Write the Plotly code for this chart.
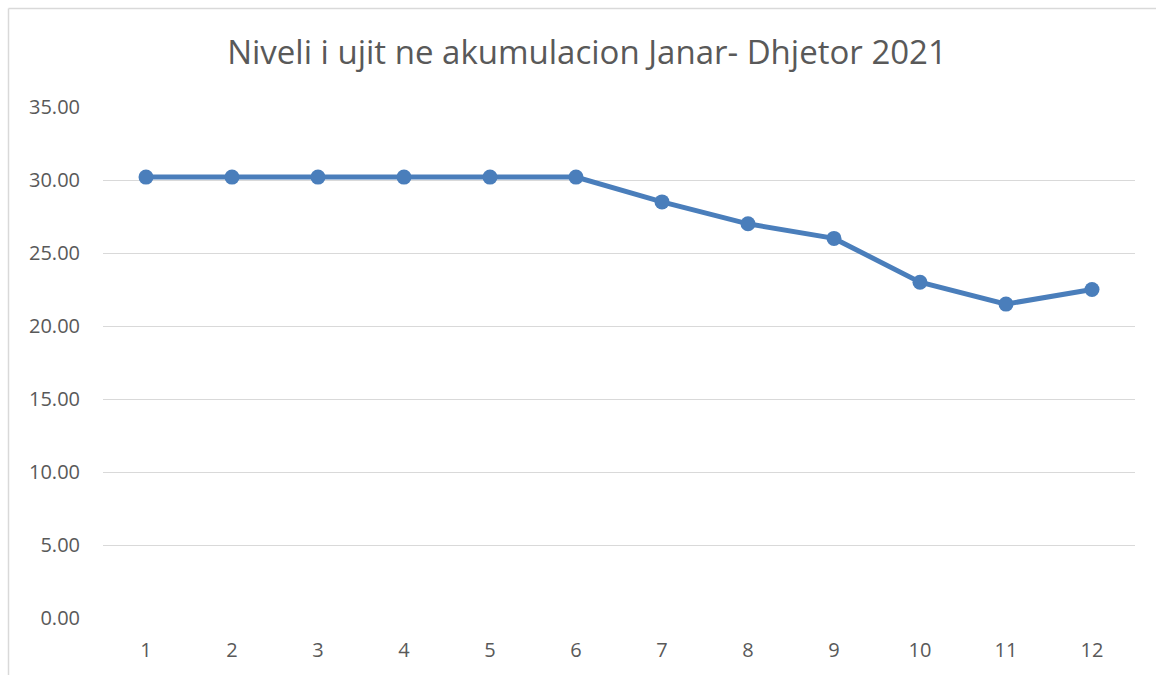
import plotly.graph_objects as go

months = ["1", "2", "3", "4", "5", "6", "7", "8", "9", "10", "11", "12"]
levels = [30.2, 30.2, 30.2, 30.2, 30.2, 30.2, 28.5, 27.0, 26.0, 23.0, 21.5, 22.5]
y_ticks = [0, 5, 10, 15, 20, 25, 30, 35]
title_text = "Niveli i ujit ne akumulacion Janar- Dhjetor 2021"

line_color = "#4a7ebb"
text_color = "#595959"
grid_color = "#d9d9d9"
font_family = "Open Sans, Liberation Sans, sans-serif"

fig = go.Figure()
fig.add_trace(go.Scatter(
    x=months, y=levels, mode="lines+markers",
    line=dict(color=line_color, width=5),
    marker=dict(color=line_color, size=15),
    showlegend=False, cliponaxis=False,
))

W, H = 1156, 675
L, R, T, B = 103, 21, 107, 57
pw, ph = W - L - R, H - T - B

bx0 = (8.5 - L) / pw
bx1 = (W - L) / pw
by_top = (H - 8.5 - B) / ph
by_bot = -B / ph

fig.update_layout(
    width=W, height=H,
    margin=dict(l=L, r=R, t=T, b=B),
    paper_bgcolor="white", plot_bgcolor="white",
    font=dict(family=font_family, color=text_color, size=20),
    title=dict(text=title_text, x=587 / W, xanchor="center", y=1 - 52 / H, yanchor="middle",
               font=dict(size=33, color=text_color, family=font_family)),
    xaxis=dict(type="category", range=[-0.5, len(months) - 0.5], showgrid=False,
               zeroline=False, showline=False,
               ticks="", ticklabelstandoff=18, tickfont=dict(size=20, color=text_color)),
    yaxis=dict(range=[0, 35], tickvals=y_ticks, tickformat=".2f", showgrid=True,
               gridcolor=grid_color, gridwidth=1, zeroline=False, showline=False,
               ticks="", ticklabelstandoff=22, tickfont=dict(size=20, color=text_color)),
    shapes=[
        dict(type="line", xref="paper", yref="paper", x0=bx0, x1=bx0, y0=by_bot, y1=by_top,
             line=dict(color=grid_color, width=1.5), layer="below"),
        dict(type="line", xref="paper", yref="paper", x0=bx0, x1=bx1, y0=by_top, y1=by_top,
             line=dict(color=grid_color, width=1.5), layer="below"),
    ],
)

fig.write_html("out.html", config={"displayModeBar": False},
               post_script="document.body.style.margin='0';document.body.style.overflow='hidden';")
